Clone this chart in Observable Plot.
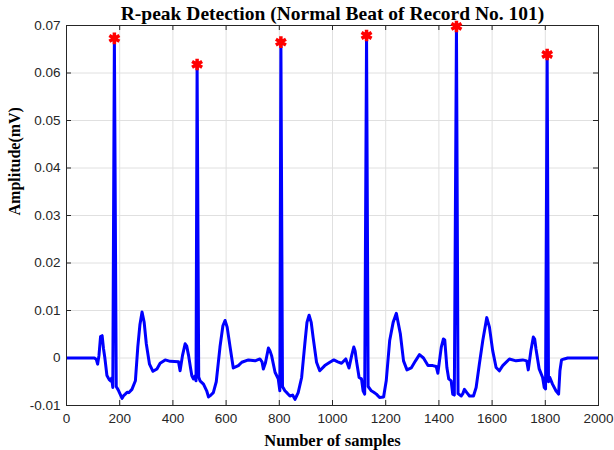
<!DOCTYPE html>
<html><head><meta charset="utf-8">
<script src="https://cdn.jsdelivr.net/npm/d3@7"></script>
<script src="https://cdn.jsdelivr.net/npm/@observablehq/plot@0.6"></script>
<style>body{margin:0;background:#fff}</style>
</head><body><div id="chart"></div>
<script>
const title = "R-peak Detection (Normal Beat of Record No. 101)";
const xLabel = "Number of samples";
const yLabel = "Amplitude(mV)";
const xTicks = [0,200,400,600,800,1000,1200,1400,1600,1800,2000];
const yTicks = [-0.01,0,0.01,0.02,0.03,0.04,0.05,0.06,0.07];
const yTickLabels = ["-0.01","0","0.01","0.02","0.03","0.04","0.05","0.06","0.07"];

const samples = [0,105,112,117,122,128,134,139,144,152,160,165,170,174,180,187,196,209,215,221,228,234,246,259,268,276,284,292,300,312,325,340,352,371,390,421,427,436,446,452,459,466,471,477,482,487,491,497,502,515,527,534,543,552,563,577,588,596,604,615,627,646,659,684,709,727,735,740,748,759,765,771,784,796,802,806,812,821,830,840,850,859,865,871,884,896,904,912,920,927,940,952,971,990,1005,1020,1034,1050,1062,1072,1080,1085,1090,1100,1109,1115,1121,1128,1134,1146,1155,1165,1177,1192,1202,1215,1228,1240,1255,1267,1280,1296,1312,1327,1342,1359,1377,1390,1396,1409,1417,1422,1430,1437,1446,1452,1458,1466,1472,1484,1490,1496,1505,1515,1530,1540,1552,1565,1580,1590,1602,1615,1627,1640,1665,1690,1715,1730,1736,1746,1755,1760,1765,1777,1790,1796,1801,1807,1812,1817,1827,1840,1850,1855,1861,1871,1884,2000];
const amplitude = [0,0,-0.0003,-0.0013,0.0005,0.0045,0.0047,0.002,0.0001,-0.0037,-0.0045,-0.0048,-0.0042,-0.0062,0.0673,-0.006,-0.0069,-0.0085,-0.0079,-0.0076,-0.0072,-0.0073,-0.0066,-0.0048,0.0023,0.007,0.0097,0.0075,0.003,-0.0013,-0.0028,-0.0023,-0.0011,-0.0004,-0.0007,-0.0008,-0.0027,0.0005,0.003,0.0025,0.0005,-0.002,-0.0037,-0.0044,-0.0038,-0.0048,0.0618,-0.004,-0.0048,-0.0055,-0.0069,-0.0082,-0.0078,-0.0073,-0.005,0.0023,0.0068,0.0079,0.0065,0.0023,-0.0021,-0.0016,-0.0009,-0.0004,-0.0006,-0.0002,-0.0008,-0.0023,-0.001,0.0021,0.0015,0.0005,-0.003,-0.0044,-0.0069,0.0665,-0.006,-0.0069,-0.0074,-0.008,-0.0078,-0.0087,-0.008,-0.0073,-0.0041,0.003,0.0075,0.009,0.0075,0.0044,-0.0009,-0.0027,-0.0016,-0.0009,-0.0004,-0.0008,-0.0011,-0.0002,-0.0021,0.0005,0.0023,0.0015,-0.0006,-0.0041,-0.0044,-0.0069,-0.0076,0.0679,-0.006,-0.0069,-0.0072,-0.0076,-0.0083,-0.0082,-0.0048,0.0037,0.0075,0.0094,0.0051,-0.0006,-0.0025,-0.0021,-0.0006,0.0007,0,-0.0016,-0.0016,-0.0018,-0.0032,0.0023,0.004,0.0038,-0.002,-0.0044,-0.0048,-0.0076,-0.0078,0.0698,-0.0075,-0.008,-0.0075,-0.0066,-0.0073,-0.008,-0.008,-0.0062,-0.0013,0.0037,0.0085,0.0065,0.0016,-0.002,-0.0027,-0.0016,-0.0002,-0.0006,-0.0004,-0.0006,-0.0025,0.0016,0.0044,0.004,0.0019,-0.0023,-0.0041,-0.0062,-0.0065,0.0639,-0.005,-0.0041,-0.0055,-0.0069,-0.0076,-0.0027,-0.0004,-0.0002,0,0];
const peakSample = [180,491,806,1128,1466,1807];
const peakAmp = [0.0673,0.0618,0.0665,0.0679,0.0698,0.0639];

const ecg = samples.map((s,i)=>({s, v: amplitude[i]}));
const peaks = peakSample.map((s,i)=>({s, v: peakAmp[i]}));

const W = 614, H = 450, mL = 66, mR = 16, mT = 25, mB = 45;
const plotW = W - mL - mR, plotH = H - mT - mB;
const axisColor = "#262626";
const serif = "'Liberation Serif','Times New Roman',serif";

const chart = Plot.plot({
  width: W, height: H,
  marginLeft: mL, marginRight: mR, marginTop: mT, marginBottom: mB,
  style: {background: "#fff", fontFamily: "'Liberation Sans', Arial, sans-serif", fontSize: "13.5px", color: axisColor},
  x: {domain: [0, 2000]},
  y: {domain: [-0.01, 0.07]},
  marks: [
    Plot.gridX(xTicks, {stroke: "#e0e0e0", strokeOpacity: 1}),
    Plot.gridY(yTicks, {stroke: "#e0e0e0", strokeOpacity: 1}),
    Plot.axisX(xTicks, {tickSize: 0, tickPadding: 8, label: null, fontSize: 13.5,
      tickFormat: d => String(d)}),
    Plot.axisY(yTicks, {tickSize: 0, tickPadding: 6, label: null, fontSize: 13.5,
      tickFormat: d => yTickLabels[yTicks.indexOf(d)]}),
    Plot.tickX(xTicks, {x: d => d, insetTop: plotH - 5, stroke: axisColor}),
    Plot.tickX(xTicks, {x: d => d, insetBottom: plotH - 5, stroke: axisColor}),
    Plot.tickY(yTicks, {y: d => d, insetRight: plotW - 5, stroke: axisColor}),
    Plot.tickY(yTicks, {y: d => d, insetLeft: plotW - 5, stroke: axisColor}),
    Plot.line(ecg, {x: "s", y: "v", stroke: "#0000ff", strokeWidth: 3, strokeLinejoin: "round", clip: true}),
    Plot.frame({stroke: axisColor}),
    Plot.dot(peaks, {x: "s", y: "v", symbol: "asterisk", r: 5.5, stroke: "#ff0000", strokeWidth: 3.5}),
    Plot.text([title], {frameAnchor: "top", lineAnchor: "middle", dy: -12, fontSize: 19.5, fontWeight: "bold", fontFamily: serif, fill: "#000"}),
    Plot.text([xLabel], {frameAnchor: "bottom", lineAnchor: "middle", dy: 35, fontSize: 16.5, fontWeight: "bold", fontFamily: serif, fill: "#000"}),
    Plot.text([yLabel], {frameAnchor: "left", lineAnchor: "middle", rotate: -90, dx: -52, fontSize: 16, fontWeight: "bold", fontFamily: serif, fill: "#000"})
  ]
});
document.getElementById("chart").append(chart);
</script>
</body></html>
